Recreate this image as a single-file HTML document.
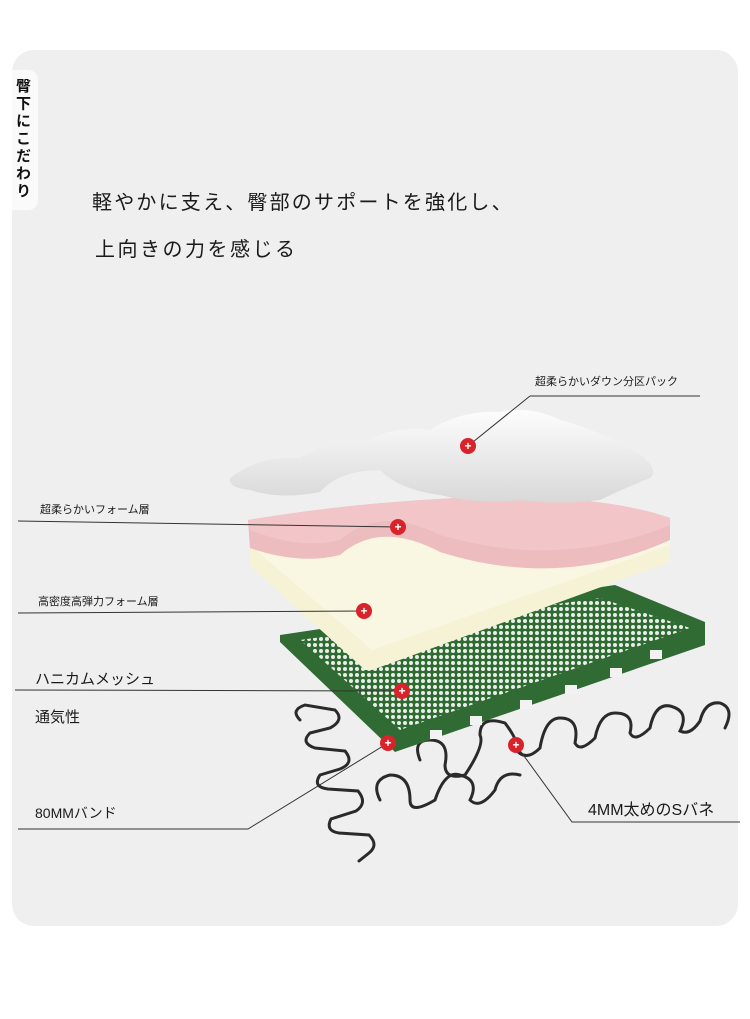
<!DOCTYPE html>
<html><head><meta charset="utf-8"><style>
html,body{margin:0;padding:0;background:#fff;}
body{width:750px;height:1019px;position:relative;overflow:hidden;font-family:"Liberation Sans","Noto Sans CJK JP",sans-serif;}
.card{position:absolute;left:12px;top:50px;width:726px;height:876px;background:#efefef;border-radius:22px;}
.tab{position:absolute;left:12px;top:70px;width:26px;height:140px;background:#fafafa;border-radius:0 10px 10px 0;}
.vt{position:absolute;left:12px;top:78px;writing-mode:vertical-rl;font-size:15px;font-weight:bold;color:#111;letter-spacing:2.5px;}
.t{position:absolute;color:#1a1a1a;white-space:nowrap;}
svg{position:absolute;left:0;top:0;}
</style></head><body>
<div class="card"></div>
<div class="tab"></div>
<div class="vt">臀下にこだわり</div>
<div class="t" style="left:92px;top:186px;font-size:20px;letter-spacing:2.2px;">軽やかに支え、臀部のサポートを強化し、</div>
<div class="t" style="left:95px;top:233px;font-size:20px;letter-spacing:2.5px;">上向きの力を感じる</div>
<svg width="750" height="1019" viewBox="0 0 750 1019">
<defs>
<linearGradient id="w" x1="0" y1="0" x2="0" y2="1"><stop offset="0" stop-color="#fdfdfd"/><stop offset="1" stop-color="#d8d8d8"/></linearGradient>
<pattern id="hex" width="6" height="6" patternUnits="userSpaceOnUse"><rect width="6" height="6" fill="#2f6b32"/><circle cx="3" cy="3" r="2" fill="#e8eee8"/></pattern>
</defs>
<g fill="none" stroke="#2a2a2a" stroke-width="3" stroke-linecap="round">
<path d="M300 720 q-10 -10 5 -15 l30 5 q10 10 -5 18 l-20 5 q-10 10 5 15 l30 3 q10 12 -5 18 l-20 6 q-8 12 8 14 l30 2 q10 12 -2 20 l-25 8 q-6 12 8 14 l30 2 q10 10 0 18 l-10 8"/>
<path d="M420 760 q-8 -20 10 -20 q20 0 15 25 q0 15 20 10 q20 -30 15 -40 q0 -20 25 -12 q15 20 10 25 q10 15 25 0 q5 -30 20 -30 q20 0 15 25 q5 10 20 -5 q5 -25 20 -25 q20 0 15 20 q5 10 20 -5 q5 -25 20 -22 q20 5 10 25 q10 5 20 -10 q5 -20 20 -18 q15 5 5 25"/>
<path d="M380 800 q-10 -20 10 -25 q20 0 20 25 q0 15 25 0 q10 -30 25 -25 q20 5 10 25 q10 10 25 -10 q5 -20 25 -15"/>
</g>
<polygon points="280,635 615,585 705,622 705,645 395,752 280,642" fill="#2f6b32"/>
<polygon points="300,640 600,598 690,628 400,730" fill="url(#hex)"/>
<g fill="#f2f2f2"><rect x="430" y="730" width="12" height="9"/><rect x="470" y="716" width="12" height="9"/><rect x="520" y="700" width="12" height="9"/><rect x="565" y="685" width="12" height="9"/><rect x="610" y="668" width="12" height="9"/><rect x="650" y="650" width="12" height="9"/></g>
<polygon points="250,540 670,525 670,562 372,670 365,670 250,566" fill="#f6f2d6"/>
<polygon points="250,540 670,525 670,545 372,650 250,545" fill="#f9f6e2"/>
<path d="M248 520 Q380 498 520 496 Q620 500 670 518 L670 540 Q560 590 440 552 Q380 520 340 555 Q300 565 250 548 Z" fill="#ecbcbf"/>
<path d="M248 520 Q380 498 520 496 Q620 500 670 518 L670 525 Q560 570 440 535 Q380 505 340 540 Q300 550 250 530 Z" fill="#f2c6c8"/>
<path d="M230 478 Q260 455 300 458 Q330 440 360 445 Q390 425 430 430 Q460 410 500 412 Q530 405 560 420 Q600 430 640 455 Q660 470 650 478 Q620 490 600 500 Q560 505 520 500 Q480 505 440 495 Q400 490 380 470 Q340 470 320 492 Q280 500 250 490 Q228 488 230 478 Z" fill="url(#w)"/>
<g stroke="#333" stroke-width="1" fill="none">
<path d="M530 396 L700 396 M530 396 L468 446"/>
<path d="M18 521 L398 527"/>
<path d="M18 613 L364 611"/>
<path d="M15 690 L402 691"/>
<path d="M18 829 L248 829 L388 743"/>
<path d="M740 822 L572 822 L516 745"/>
</g>
<g font-size="12" fill="#fff" font-weight="bold" text-anchor="middle">
<circle cx="468" cy="446" r="8" fill="#d9232b"/><text x="468" y="450">+</text>
<circle cx="398" cy="527" r="8" fill="#d9232b"/><text x="398" y="531">+</text>
<circle cx="364" cy="611" r="8" fill="#d9232b"/><text x="364" y="615">+</text>
<circle cx="402" cy="691" r="8" fill="#d9232b"/><text x="402" y="695">+</text>
<circle cx="388" cy="743" r="8" fill="#d9232b"/><text x="388" y="747">+</text>
<circle cx="516" cy="745" r="8" fill="#d9232b"/><text x="516" y="749">+</text>
</g>
</svg>
<div class="t" style="left:535px;top:373px;font-size:11px;">超柔らかいダウン分区パック</div>
<div class="t" style="left:40px;top:501px;font-size:11px;">超柔らかいフォーム層</div>
<div class="t" style="left:38px;top:593px;font-size:11px;">高密度高弾力フォーム層</div>
<div class="t" style="left:35px;top:668px;font-size:15px;">ハニカムメッシュ</div>
<div class="t" style="left:35px;top:706px;font-size:15px;">通気性</div>
<div class="t" style="left:35px;top:803px;font-size:14px;">80MMバンド</div>
<div class="t" style="left:588px;top:796px;font-size:16px;">4MM太めのSバネ</div>
</body></html>
